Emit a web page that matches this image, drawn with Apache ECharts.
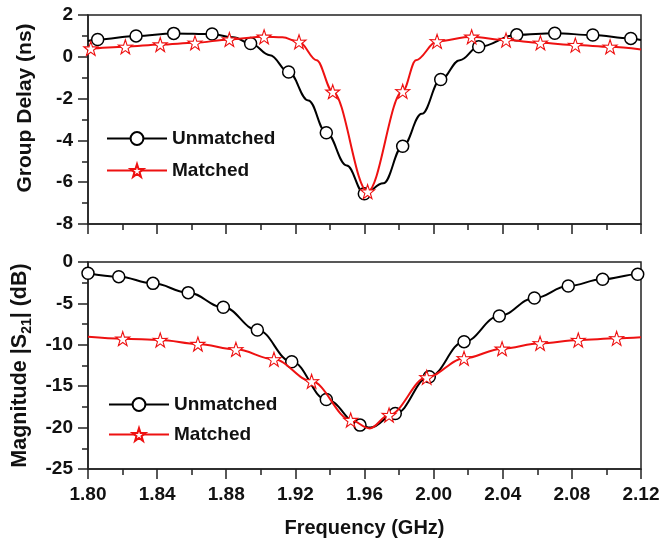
<!DOCTYPE html>
<html>
<head>
<meta charset="utf-8">
<script src="https://cdn.jsdelivr.net/npm/echarts@6/dist/echarts.min.js"></script>
<style>html,body{margin:0;padding:0;background:#fff}#c{width:663px;height:541px}</style>
</head>
<body>
<div id="c"></div>
<script>
// ---------- data ----------
const xTickLabels = ['1.80','1.84','1.88','1.92','1.96','2.00','2.04','2.08','2.12'];
const seriesNames = ['Unmatched', 'Matched'];

// Group delay (ns) – Unmatched: marker points
const gdUnX = [1.8056,1.8278,1.8496,1.8718,1.8941,1.9161,1.9379,1.9599,1.9821,2.0041,2.0261,2.0481,2.0701,2.0921,2.1141];
const gdUnY = [0.83,1.00,1.12,1.09,0.64,-0.73,-3.63,-6.55,-4.28,-1.09,0.48,1.05,1.13,1.04,0.88];
// Group delay – Unmatched: extra curve points read between markers
const gdUnCurveX = [1.80,1.884,1.9053,1.9275,1.9497,1.9709,1.9931,2.0152,2.12];
const gdUnCurveY = [0.76,0.93,0.08,-2.09,-5.20,-6.05,-2.73,-0.16,0.80];

// Group delay – Matched: marker points
const gdMaX = [1.8016,1.8216,1.8418,1.8619,1.8818,1.9019,1.9221,1.9416,1.9618,1.9821,2.0020,2.0220,2.0419,2.0618,2.0820,2.1021];
const gdMaY = [0.40,0.48,0.59,0.67,0.83,0.96,0.72,-1.67,-6.45,-1.65,0.74,0.96,0.80,0.67,0.56,0.48];
const gdMaCurveX = [1.80,1.9125,1.9323,1.9898,2.12];
const gdMaCurveY = [0.38,0.93,-0.16,-0.16,0.35];

// |S21| (dB) – Unmatched
const s21UnX = [1.80,1.8178,1.8376,1.858,1.8783,1.898,1.9179,1.9379,1.9574,1.9778,1.9975,2.0176,2.0380,2.0583,2.0779,2.0978,2.1181];
const s21UnY = [-1.36,-1.77,-2.58,-3.70,-5.47,-8.21,-12.04,-16.6,-19.7,-18.3,-13.85,-9.62,-6.52,-4.35,-2.90,-2.09,-1.49];
const s21UnCurveX = [1.9635,2.12];
const s21UnCurveY = [-20.0,-1.45];

// |S21| (dB) – Matched
const s21MaX = [1.8201,1.8418,1.8636,1.8856,1.9076,1.9294,1.9520,1.9742,1.9960,2.0176,2.0396,2.0616,2.0837,2.1059];
const s21MaY = [-9.26,-9.42,-9.90,-10.55,-11.75,-14.41,-19.08,-18.48,-13.93,-11.63,-10.47,-9.82,-9.42,-9.22];
const s21MaCurveX = [1.80,1.9630,2.12];
const s21MaCurveY = [-9.02,-20.1,-9.10];

// ---------- helpers ----------
function buildData(mx, my, cx, cy) {
  const pts = [];
  mx.forEach((x, i) => pts.push({ value: [x, my[i]] }));
  cx.forEach((x, i) => pts.push({ value: [x, cy[i]], symbol: 'none' }));
  pts.sort((a, b) => a.value[0] - b.value[0]);
  return pts;
}

const FONT = '"Liberation Sans", Arial, sans-serif';
const RED = '#ee1111';
const AX = '#222';
const STAR = 'path://M50,0 L61.8,35.1 L97.6,34.5 L68.8,56.9 L79.4,90.5 L50,70 L20.6,90.5 L31.2,56.9 L2.4,34.5 L38.2,35.1 Z';

function unSeries(xi, yi, data) {
  return {
    name: seriesNames[0], type: 'line', xAxisIndex: xi, yAxisIndex: yi,
    data: data, smooth: 0.4, smoothMonotone: 'x',
    symbol: 'circle', symbolSize: 12, showAllSymbol: true,
    lineStyle: { color: '#000', width: 2 },
    itemStyle: { color: '#fff', borderColor: '#000', borderWidth: 1.5 },
    z: 3, clip: false
  };
}
function maSeries(xi, yi, data) {
  return {
    name: seriesNames[1], type: 'line', xAxisIndex: xi, yAxisIndex: yi,
    data: data, smooth: 0.35, smoothMonotone: 'x',
    symbol: STAR, symbolSize: 14, showAllSymbol: true,
    lineStyle: { color: RED, width: 2 },
    itemStyle: { color: '#fff', borderColor: RED, borderWidth: 1.1 },
    z: 4, clip: false
  };
}

const xAxisCommon = {
  type: 'value', min: 1.80, max: 2.12, interval: 0.04,
  axisLine: { show: true, onZero: false, lineStyle: { color: AX, width: 1.5 } },
  axisTick: { show: true, inside: false, length: 10, lineStyle: { color: AX, width: 1.5 } },
  minorTick: { show: true, splitNumber: 2, length: 6, lineStyle: { color: AX, width: 1.5 } },
  splitLine: { show: false }
};
const yAxisCommon = {
  type: 'value',
  axisLine: { show: true, onZero: false, lineStyle: { color: AX, width: 1.5 } },
  axisTick: { show: true, inside: false, length: 10, lineStyle: { color: AX, width: 1.5 } },
  minorTick: { show: true, splitNumber: 2, length: 6, lineStyle: { color: AX, width: 1.5 } },
  splitLine: { show: false },
  axisLabel: { color: '#111', fontSize: 19, fontWeight: 'bold', fontFamily: FONT, margin: 15 },
  nameLocation: 'middle',
  nameTextStyle: { color: '#111', fontSize: 21, fontWeight: 'bold', fontFamily: FONT }
};

const legendText = { color: '#111', fontSize: 19, fontWeight: 'bold', fontFamily: FONT };

const chart = echarts.init(document.getElementById('c'), null, { renderer: 'canvas' });
chart.setOption({
  animation: false,
  backgroundColor: '#fff',
  grid: [
    { left: 88, right: 22, top: 15, height: 209, show: true, borderColor: AX, borderWidth: 1.5, backgroundColor: 'transparent' },
    { left: 88, right: 22, top: 262, height: 207, show: true, borderColor: AX, borderWidth: 1.5, backgroundColor: 'transparent' }
  ],
  xAxis: [
    Object.assign({}, xAxisCommon, { gridIndex: 0, axisLabel: { show: false } }),
    Object.assign({}, xAxisCommon, {
      gridIndex: 1,
      axisLabel: { show: true, color: '#111', fontSize: 19, fontWeight: 'bold', fontFamily: FONT, margin: 16,
        formatter: (v) => { const s = v.toFixed(2); return xTickLabels.indexOf(s) >= 0 ? s : ''; } },
      name: 'Frequency (GHz)', nameLocation: 'middle', nameGap: 49,
      nameTextStyle: { color: '#111', fontSize: 20, fontWeight: 'bold', fontFamily: FONT }
    })
  ],
  yAxis: [
    Object.assign({}, yAxisCommon, {
      gridIndex: 0, min: -8, max: 2, interval: 2,
      name: 'Group Delay (ns)', nameGap: 52,
      nameTextStyle: Object.assign({}, yAxisCommon.nameTextStyle, { padding: [0, 0, 0, 23] })
    }),
    Object.assign({}, yAxisCommon, {
      gridIndex: 1, min: -25, max: 0, interval: 5,
      name: '{a|Magnitude |S}{s|21}{a|| (dB)}', nameGap: 52,
      nameTextStyle: {
        color: '#111', fontSize: 21, fontWeight: 'bold', fontFamily: FONT,
        rich: {
          a: { color: '#111', fontSize: 21.5, fontWeight: 'bold', fontFamily: FONT, lineHeight: 26, verticalAlign: 'bottom' },
          s: { color: '#111', fontSize: 14, fontWeight: 'bold', fontFamily: FONT, lineHeight: 26, verticalAlign: 'bottom', padding: [0, 0, -4, 0] }
        }
      }
    })
  ],
  legend: [
    { show: true, data: seriesNames, orient: 'vertical', left: 101, top: 124, itemWidth: 60, itemHeight: 16, itemGap: 13,
      textStyle: legendText, selectedMode: false },
    { show: true, data: seriesNames, orient: 'vertical', left: 103, top: 390, itemWidth: 60, itemHeight: 16, itemGap: 11,
      textStyle: legendText, selectedMode: false }
  ],
  series: [
    unSeries(0, 0, buildData(gdUnX, gdUnY, gdUnCurveX, gdUnCurveY)),
    maSeries(0, 0, buildData(gdMaX, gdMaY, gdMaCurveX, gdMaCurveY)),
    unSeries(1, 1, buildData(s21UnX, s21UnY, s21UnCurveX, s21UnCurveY)),
    maSeries(1, 1, buildData(s21MaX, s21MaY, s21MaCurveX, s21MaCurveY))
  ]
});
</script>
</body>
</html>
